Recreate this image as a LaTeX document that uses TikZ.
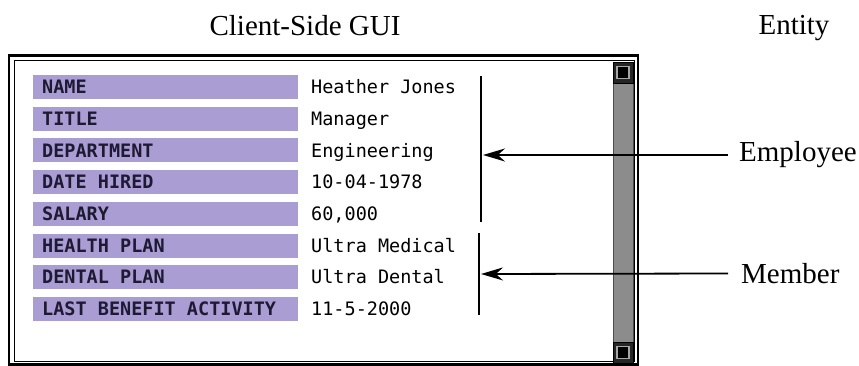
\documentclass[tikz,border=0pt]{standalone}
\usepackage{fontspec}
\setmainfont{Liberation Serif}
\newfontfamily\guifont{DejaVu Sans Mono}
\usetikzlibrary{arrows.meta}
\definecolor{FieldLavender}{HTML}{A99DD3}
\definecolor{FieldInk}{HTML}{1F1A33}
\definecolor{ScrollGray}{HTML}{8C8C8C}

\begin{document}
\begin{tikzpicture}[x=1pt,y=-1pt,>={Stealth[length=22pt,width=13pt]},
    every node/.style={font=\guifont\fontsize{18.5}{20}\selectfont},
    fieldbox/.style={fill=FieldLavender,text=FieldInk,anchor=west,minimum height=24pt,
      text width=247pt,inner xsep=9pt,inner ysep=0pt,align=left,text height=13.5pt,text depth=0pt,
      font=\guifont\bfseries\fontsize{18.5}{20}\selectfont},
    fieldval/.style={anchor=west,inner sep=0pt,text height=13.5pt,text depth=0pt},
    caption/.style={font=\fontsize{29}{32}\selectfont}]
    \useasboundingbox (0,0) rectangle (859,366);

    % titles
    \node[caption,anchor=base] (guititle) at (305,36) {Client-Side GUI};
    \node[caption,anchor=base] (entitytitle) at (794,35) {Entity};

    % window frame
    \draw[line width=2.5pt] (9,55.5) rectangle (638,364.5);
    \draw[line width=1pt] (14,61) rectangle (634,361);

    % scroll bar
    \filldraw[fill=ScrollGray,draw=black!70,line width=0.8pt] (613,82) rectangle (633,343);
    \foreach \ya/\yb in {62/83,342/363} {
      \filldraw[fill=black!85,draw=black,line width=0.8pt] (613,\ya) rectangle (633,\yb);
      \filldraw[fill=black,draw=gray!70,line width=1.2pt] (617,\ya+4.5) rectangle (629,\yb-4.5);
    }

    % fields
    \foreach \i/\lab/\val in {0/NAME/Heather Jones,1/TITLE/Manager,2/DEPARTMENT/Engineering,
        3/DATE HIRED/10-04-1978,4/SALARY/{60,000},5/HEALTH PLAN/Ultra Medical,
        6/DENTAL PLAN/Ultra Dental,7/LAST BENEFIT ACTIVITY/11-5-2000} {
      \node[fieldbox] (lab\i) at (33,87+31.7*\i) {\spaceskip=0pt\relax\lab};
      \node[fieldval] (val\i) at (311,87+31.7*\i) {\val};
    }

    % groups
    \draw[line width=2pt] (481,76) -- (481,222);
    \draw[line width=2pt] (479,233) -- (479,315);
    \coordinate (emptip) at (483,155);
    \coordinate (memtip) at (481,274);

    \node[caption,anchor=west,inner xsep=11pt] (employee) at (728,155) {Employee};
    \node[caption,anchor=west,inner xsep=13pt] (member) at (728,273.5) {Member};
    \draw[->,line width=1.8pt] (employee.west) -- (emptip);
    \draw[->,line width=1.8pt] (member.west) -- (memtip);
\end{tikzpicture}
\end{document}
